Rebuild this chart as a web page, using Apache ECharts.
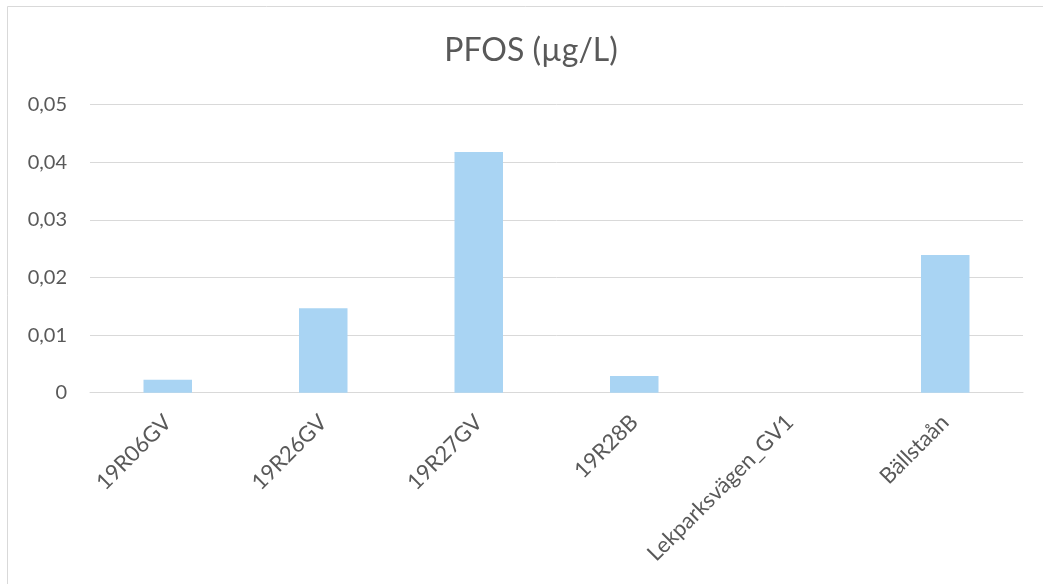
<!DOCTYPE html>
<html>
<head>
<meta charset="utf-8">
<script src="https://cdn.jsdelivr.net/npm/echarts@6/dist/echarts.min.js"></script>
<style>
html,body{margin:0;padding:0;background:#fff;}
#chart{width:1043px;height:584px;}
</style>
</head>
<body>
<div id="chart"></div>
<script>
const titleText = 'PFOS (µg/L)';
const categories = ['19R06GV', '19R26GV', '19R27GV', '19R28B', 'Lekparksvägen_GV1', 'Bällstaån'];
const pfosValues = [0.00226, 0.01465, 0.0418, 0.0029, 0, 0.0239];
const yMin = 0, yMax = 0.05, yStep = 0.01;

const font = 'Lato, "Open Sans", "Liberation Sans", sans-serif';
const chart = echarts.init(document.getElementById('chart'), null, {renderer: 'canvas'});
chart.setOption({
  backgroundColor: '#ffffff',
  animation: false,
  title: {
    text: titleText,
    left: 526,
    top: 30,
    textAlign: 'center',
    textStyle: {fontFamily: font, fontSize: 32, fontWeight: 'normal', color: '#595959'}
  },
  graphic: [{
    type: 'rect',
    shape: {x: 7.5, y: 6.5, width: 1200, height: 800},
    style: {fill: 'none', stroke: '#d9d9d9', lineWidth: 1},
    silent: true
  }],
  grid: {left: 90, right: 20, top: 104.7, bottom: 191.3, containLabel: false},
  xAxis: {
    type: 'category',
    data: categories,
    axisLine: {lineStyle: {color: '#d9d9d9', width: 1}},
    axisTick: {show: false},
    axisLabel: {
      rotate: 45, margin: 26, interval: 0,
      fontFamily: font, fontSize: 22, color: '#595959'
    }
  },
  yAxis: {
    type: 'value',
    min: yMin, max: yMax, interval: yStep,
    axisLine: {show: false},
    axisTick: {show: false},
    splitLine: {lineStyle: {color: '#d9d9d9', width: 1}},
    axisLabel: {
      margin: 23, fontFamily: font, fontSize: 20, color: '#595959',
      formatter: v => v === 0 ? '0' : v.toFixed(2).replace('.', ',')
    }
  },
  series: [{
    type: 'bar',
    data: pfosValues,
    barWidth: 48.5,
    itemStyle: {color: '#a9d4f3'}
  }]
});
</script>
</body>
</html>
